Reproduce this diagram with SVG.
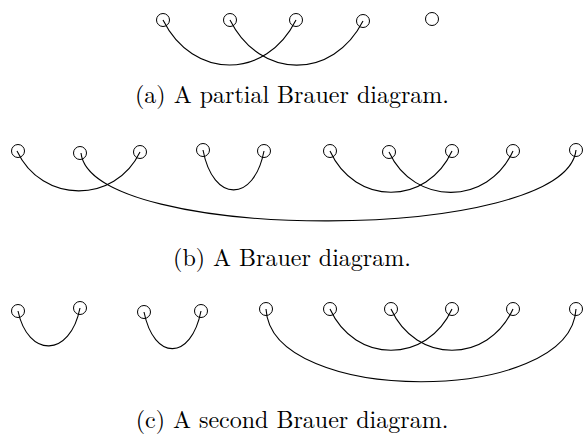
<svg xmlns="http://www.w3.org/2000/svg" width="584" height="438" viewBox="0 0 584 438">
<style>
.n{fill:none;stroke:#000;stroke-width:1}
.e{fill:none;stroke:#000;stroke-width:1.1}
.cap{font-family:"Latin Modern Roman","CMU Serif","Liberation Serif","DejaVu Serif",serif;font-size:24px;fill:#000;text-anchor:middle}
</style>
<rect width="584" height="438" fill="#fff"/>
<g id="connectors">
<path class="e" d="M163 20 C193 80 266 80 296 20"/>
<path class="e" d="M230 20 C260 80 333 80 363 21"/>
<path class="e" d="M17 151 C42 204 115 204 140 152"/>
<path class="e" d="M81 153 C91 244 566 244 576 150"/>
<path class="e" d="M203 150 C213 203 254 203 264 151"/>
<path class="e" d="M330 151 C355 206 427 206 452 151"/>
<path class="e" d="M389 152 C414 206 488 206 513 151"/>
<path class="e" d="M18 311 C28 358 70 358 80 308"/>
<path class="e" d="M144 312 C154 361 191 361 201 311"/>
<path class="e" d="M266 309 C271 406 571 406 576 309"/>
<path class="e" d="M330 309 C355 364 427 364 452 309"/>
<path class="e" d="M391 309 C416 364 488 364 513 309"/>
</g>
<g id="row-a">
<circle id="a1" class="n" cx="163" cy="20" r="6.5"/>
<circle id="a2" class="n" cx="230" cy="20" r="6.5"/>
<circle id="a3" class="n" cx="296" cy="20" r="6.5"/>
<circle id="a4" class="n" cx="363" cy="21" r="6.5"/>
<circle id="a5" class="n" cx="432" cy="19" r="6.5"/>
</g>
<g id="row-b">
<circle id="b1" class="n" cx="18" cy="151" r="6.5"/>
<circle id="b2" class="n" cx="80" cy="153" r="6.5"/>
<circle id="b3" class="n" cx="140" cy="152" r="6.5"/>
<circle id="b4" class="n" cx="203" cy="150" r="6.5"/>
<circle id="b5" class="n" cx="264" cy="151" r="6.5"/>
<circle id="b6" class="n" cx="330" cy="151" r="6.5"/>
<circle id="b7" class="n" cx="389" cy="152" r="6.5"/>
<circle id="b8" class="n" cx="452" cy="151" r="6.5"/>
<circle id="b9" class="n" cx="513" cy="151" r="6.5"/>
<circle id="b10" class="n" cx="576" cy="150" r="6.5"/>
</g>
<g id="row-c">
<circle id="c1" class="n" cx="18" cy="311" r="6.5"/>
<circle id="c2" class="n" cx="80" cy="308" r="6.5"/>
<circle id="c3" class="n" cx="144" cy="312" r="6.5"/>
<circle id="c4" class="n" cx="201" cy="311" r="6.5"/>
<circle id="c5" class="n" cx="266" cy="309" r="6.5"/>
<circle id="c6" class="n" cx="330" cy="309" r="6.5"/>
<circle id="c7" class="n" cx="391" cy="309" r="6.5"/>
<circle id="c8" class="n" cx="452" cy="309" r="6.5"/>
<circle id="c9" class="n" cx="513" cy="309" r="6.5"/>
<circle id="c10" class="n" cx="576" cy="309" r="6.5"/>
</g>
<g id="captions">
<text class="cap" x="292" y="103">(a) A partial Brauer diagram.</text>
<text class="cap" x="292" y="266">(b) A Brauer diagram.</text>
<text class="cap" x="292" y="428">(c) A second Brauer diagram.</text>
</g>
</svg>
